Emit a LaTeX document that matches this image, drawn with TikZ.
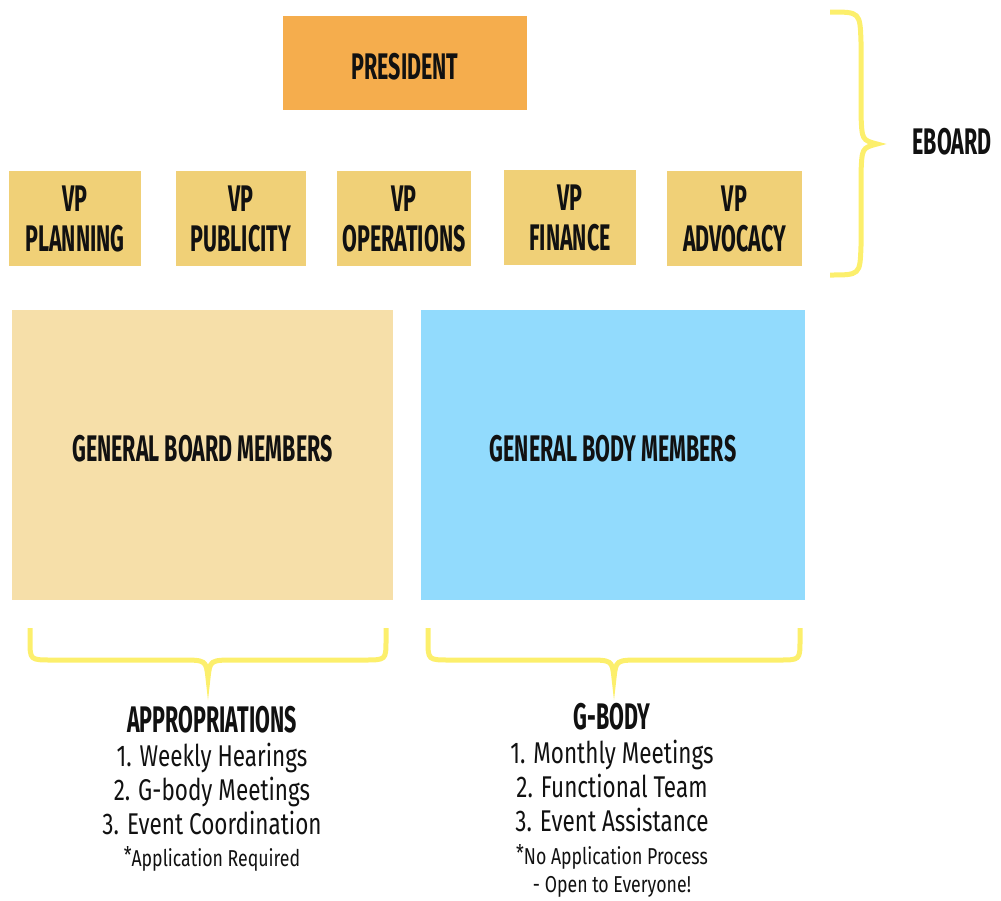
\documentclass[tikz,border=0pt]{standalone}
\usepackage{fontspec}
\setmainfont{Fira Sans}
\newfontfamily\headfont[FakeStretch=0.58]{Fira Sans}
\newfontfamily\bodyfont[FakeStretch=0.75]{Fira Sans}
\newfontfamily\notefont[FakeStretch=0.77]{Fira Sans}
\definecolor{presc}{HTML}{F5AD4D}
\definecolor{vpc}{HTML}{F0D077}
\definecolor{boardc}{HTML}{F6DFA9}
\definecolor{bodyc}{HTML}{92DBFD}
\definecolor{bracec}{HTML}{FCEF6C}
\definecolor{inkc}{HTML}{111111}
\tikzset{
  headtxt/.style={font=\headfont\bfseries\fontsize{37}{40}\selectfont, text=inkc},
  box/.style={headtxt, inner sep=0pt, align=center},
  vpbox/.style={box, fill=vpc, minimum height=95pt},
  listtxt/.style={font=\bodyfont\fontsize{30}{34}\selectfont, text=inkc, align=center, inner sep=0pt},
  notetxt/.style={font=\notefont\fontsize{23}{28}\selectfont, text=inkc, align=center, inner sep=0pt},
  bracepath/.style={draw=bracec, line width=5pt, line cap=butt}
}
\begin{document}
\begin{tikzpicture}[x=1pt,y=-1pt]
\useasboundingbox (0,0) rectangle (1001,900);
% top
\node[box, fill=presc, minimum width=244pt, minimum height=94pt] (pres) at (405,63) {\raisebox{-4pt}[\height][\depth]{PRESIDENT}};
\node[vpbox, minimum width=132pt] (plan) at (75,218.5) {VP\\PLANNING};
\node[vpbox, minimum width=130pt] (pub) at (241,218.5) {VP\\PUBLICITY};
\node[vpbox, minimum width=134pt] (ops) at (404,218.5) {VP\\OPERATIONS};
\node[vpbox, minimum width=132pt] (fin) at (570,217.5) {VP\\FINANCE};
\node[vpbox, minimum width=135pt] (adv) at (734.5,218.5) {VP\\ADVOCACY};
% eboard brace
\draw[bracepath] (830,12) .. controls (860,12) .. (861,42) -- (861,115)
  .. controls (862,140) .. (877,144) .. controls (862,148) .. (861,173)
  -- (861,246) .. controls (860,275) .. (830,275);
\node[headtxt, inner sep=0pt] (eboard) at (952,142) {EBOARD};
% members
\node[box, fill=boardc, minimum width=381pt, minimum height=290pt] (board) at (202.5,455) {\raisebox{6pt}[\height][\depth]{GENERAL BOARD MEMBERS}};
\node[box, fill=bodyc, minimum width=384pt, minimum height=290pt] (gbody) at (613,455) {\raisebox{6pt}[\height][\depth]{GENERAL BODY MEMBERS}};
% bottom braces
\draw[bracepath] (30,628) -- (30,640) .. controls (30,660) .. (52,660) -- (180,660)
  .. controls (206,660) .. (208,678) .. controls (210,660) .. (236,660) -- (364,660)
  .. controls (386,660) .. (386,640) -- (386,628);
\draw[bracepath] (428,628) -- (428,640) .. controls (428,660) .. (450,660) -- (586,660)
  .. controls (612,660) .. (614,678) .. controls (616,660) .. (642,660) -- (779,660)
  .. controls (800,660) .. (800,640) -- (800,628);
% appropriations
\node[headtxt, inner sep=0pt] (apptitle) at (212,720) {APPROPRIATIONS};
\node[listtxt, anchor=north] (applist) at (212,743) {1. Weekly Hearings\\2. G-body Meetings\\3. Event Coordination};
\node[notetxt, anchor=north] (appnote) at (212,846) {\raisebox{3pt}{*}Application Required};
% g-body
\node[headtxt, inner sep=0pt] (gtitle) at (612,717) {G-BODY};
\node[listtxt, anchor=north] (glist) at (612,740) {1. Monthly Meetings\\2. Functional Team\\3. Event Assistance};
\node[notetxt, anchor=north] (gnote) at (612,844) {\raisebox{3pt}{*}No Application Process\\- Open to Everyone!};
\end{tikzpicture}
\end{document}
